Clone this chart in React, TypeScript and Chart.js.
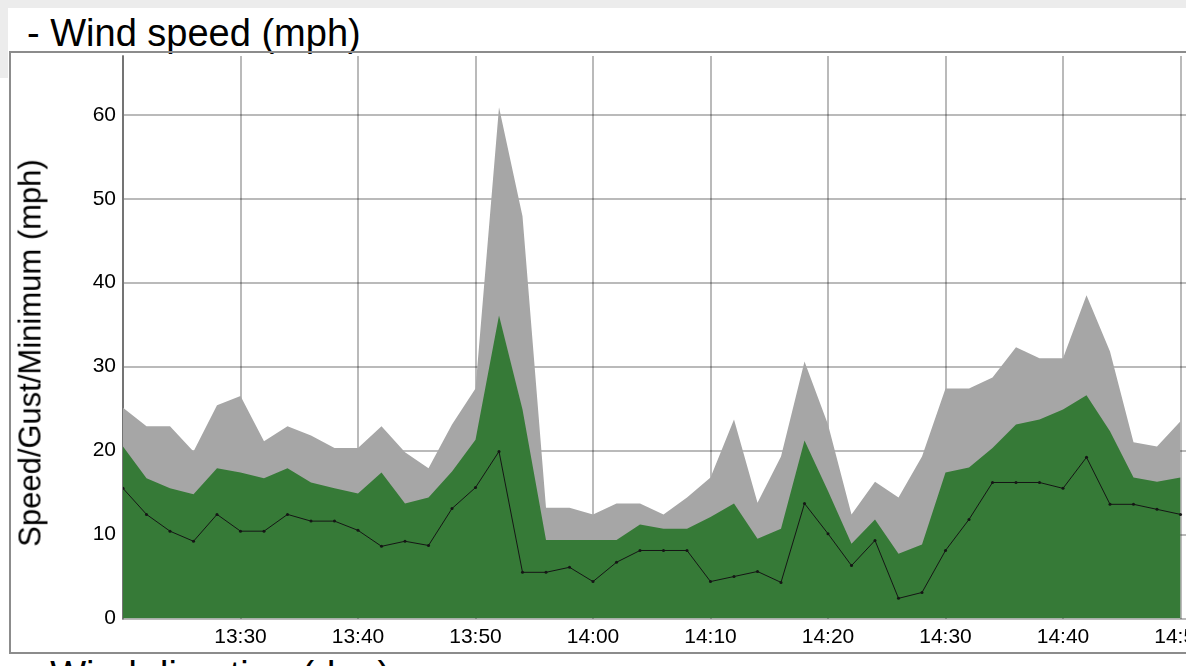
import React, { useEffect, useRef } from "react";
import { Chart, registerables } from "chart.js";

Chart.register(...registerables);

// Sample times (every 2 minutes)
const times = [
  "13:20", "13:22", "13:24", "13:26", "13:28", "13:30", "13:32", "13:34", "13:36", "13:38",
  "13:40", "13:42", "13:44", "13:46", "13:48", "13:50", "13:52", "13:54", "13:56", "13:58",
  "14:00", "14:02", "14:04", "14:06", "14:08", "14:10", "14:12", "14:14", "14:16", "14:18",
  "14:20", "14:22", "14:24", "14:26", "14:28", "14:30", "14:32", "14:34", "14:36", "14:38",
  "14:40", "14:42", "14:44", "14:46", "14:48", "14:50",
];

// Gust (mph)
const gust = [
  25.1, 22.9, 22.9, 19.9, 25.4, 26.5, 21.1, 22.9, 21.8, 20.3,
  20.3, 22.9, 19.8, 17.9, 23.1, 27.4, 60.9, 47.9, 13.2, 13.2,
  12.4, 13.7, 13.7, 12.4, 14.4, 16.8, 23.7, 13.8, 19.3, 30.6,
  23.1, 12.4, 16.3, 14.4, 19.3, 27.4, 27.4, 28.7, 32.3, 31.0,
  31.0, 38.5, 31.8, 21.0, 20.5, 23.5,
];

// Speed (mph)
const speed = [
  20.5, 16.7, 15.5, 14.8, 17.9, 17.4, 16.7, 17.9, 16.2, 15.5,
  14.9, 17.4, 13.7, 14.4, 17.5, 21.3, 36.1, 24.9, 9.35, 9.35,
  9.35, 9.35, 11.2, 10.7, 10.7, 12.1, 13.7, 9.5, 10.7, 21.2,
  15.2, 8.9, 11.8, 7.7, 8.8, 17.4, 18.0, 20.3, 23.1, 23.7,
  24.9, 26.6, 22.3, 16.8, 16.3, 16.8,
];

// Minimum (mph)
const minimum = [
  15.5, 12.4, 10.4, 9.2, 12.4, 10.4, 10.4, 12.4, 11.6, 11.6,
  10.5, 8.6, 9.2, 8.7, 13.1, 15.6, 19.9, 5.5, 5.5, 6.1,
  4.4, 6.7, 8.1, 8.1, 8.1, 4.4, 5.0, 5.6, 4.3, 13.7,
  10.1, 6.3, 9.3, 2.4, 3.1, 8.1, 11.8, 16.2, 16.2, 16.2,
  15.5, 19.2, 13.6, 13.6, 13.0, 12.4,
];

const xStart = "13:20";
const xEnd = "14:56";
const yMax = 67;

const toMinutes = (t: string) => {
  const [h, m] = t.split(":").map(Number);
  return h * 60 + m;
};
const fmt = (v: number) => {
  const h = Math.floor(v / 60);
  const m = Math.round(v - h * 60);
  return `${h}:${m < 10 ? "0" : ""}${m}`;
};

const FONT = '"Liberation Sans", Arial, Helvetica, sans-serif';

export default function App() {
  const ref = useRef<HTMLCanvasElement>(null);

  useEffect(() => {
    const canvas = ref.current;
    if (!canvas) return;
    const pts = (vals: number[]) => vals.map((v, i) => ({ x: toMinutes(times[i]), y: v }));
    const gridColor = "rgba(0,0,0,0.27)";
    const chart = new Chart(canvas, {
      type: "line",
      data: {
        datasets: [
          {
            label: "Minimum",
            data: pts(minimum),
            borderColor: "#151515",
            borderWidth: 1,
            pointRadius: 1.5,
            pointBackgroundColor: "#151515",
            pointBorderWidth: 0,
            fill: false,
            tension: 0,
          },
          {
            label: "Speed",
            data: pts(speed),
            borderColor: "rgba(0,0,0,0)",
            borderWidth: 0,
            backgroundColor: "#367a37",
            pointRadius: 0,
            fill: "origin",
            tension: 0,
          },
          {
            label: "Gust",
            data: pts(gust),
            borderColor: "rgba(0,0,0,0)",
            borderWidth: 0,
            backgroundColor: "#a6a6a6",
            pointRadius: 0,
            fill: "origin",
            tension: 0,
          },
        ],
      },
      options: {
        responsive: false,
        animation: false,
        layout: { padding: 0 },
        plugins: { legend: { display: false }, tooltip: { enabled: false } },
        scales: {
          x: {
            type: "linear",
            min: toMinutes(xStart),
            max: toMinutes(xEnd),
            z: 1,
            afterFit: (s: any) => {
              s.height = 34.5;
              s.paddingLeft = 0;
              s.paddingRight = 0;
            },
            ticks: {
              stepSize: 10,
              includeBounds: false,
              autoSkip: false,
              maxRotation: 0,
              padding: 6,
              color: "#000",
              font: { family: FONT, size: 21 },
              callback: (v: any) => {
                const n = Number(v);
                if (n === toMinutes(xStart) || n % 10 !== 0) return "";
                return fmt(n);
              },
            },
            grid: { color: gridColor, lineWidth: 2, drawTicks: false },
            border: { display: false },
          },
          y: {
            type: "linear",
            min: 0,
            max: yMax,
            z: 1,
            afterFit: (s: any) => {
              s.width = 113;
              s.paddingTop = 0;
              s.paddingBottom = 0;
            },
            ticks: {
              stepSize: 10,
              includeBounds: false,
              padding: 7,
              color: "#000",
              font: { family: FONT, size: 21 },
            },
            grid: { color: gridColor, lineWidth: 2, drawTicks: false },
            border: { display: true, color: "rgba(0,0,0,0.38)", width: 2 },
          },
        },
      },
    });
    return () => chart.destroy();
  }, []);

  return (
    <div
      style={{
        position: "fixed",
        left: 0,
        top: 0,
        width: 1186,
        height: 666,
        overflow: "hidden",
        background: "#fff",
        fontFamily: FONT,
        color: "#000",
      }}
    >
      <div style={{ position: "absolute", left: 0, top: 0, width: 1186, height: 8, background: "#ececec" }} />
      <div style={{ position: "absolute", left: 0, top: 0, width: 8, height: 78, background: "#ececec" }} />
      <div
        style={{
          position: "absolute",
          left: 27,
          top: 14,
          fontSize: 38,
          lineHeight: "38px",
          whiteSpace: "nowrap",
        }}
      >
        - Wind speed (mph)
      </div>
      <div
        style={{
          position: "absolute",
          left: 9,
          top: 51,
          width: 1300,
          height: 603,
          boxSizing: "border-box",
          border: "2px solid #8c8c8c",
        }}
      />
      <canvas
        ref={ref}
        width={1245}
        height={601}
        style={{ position: "absolute", left: 10, top: 52, width: 1245, height: 601 }}
      />
      <div
        style={{
          position: "absolute",
          left: 30,
          top: 353,
          transform: "translate(-50%, -50%) rotate(-90deg)",
          fontSize: 31,
          lineHeight: "31px",
          whiteSpace: "nowrap",
        }}
      >
        Speed/Gust/Minimum (mph)
      </div>
      <div
        style={{
          position: "absolute",
          left: 27,
          top: 656,
          fontSize: 38,
          lineHeight: "38px",
          whiteSpace: "nowrap",
        }}
      >
        - Wind direction (deg)
      </div>
    </div>
  );
}
